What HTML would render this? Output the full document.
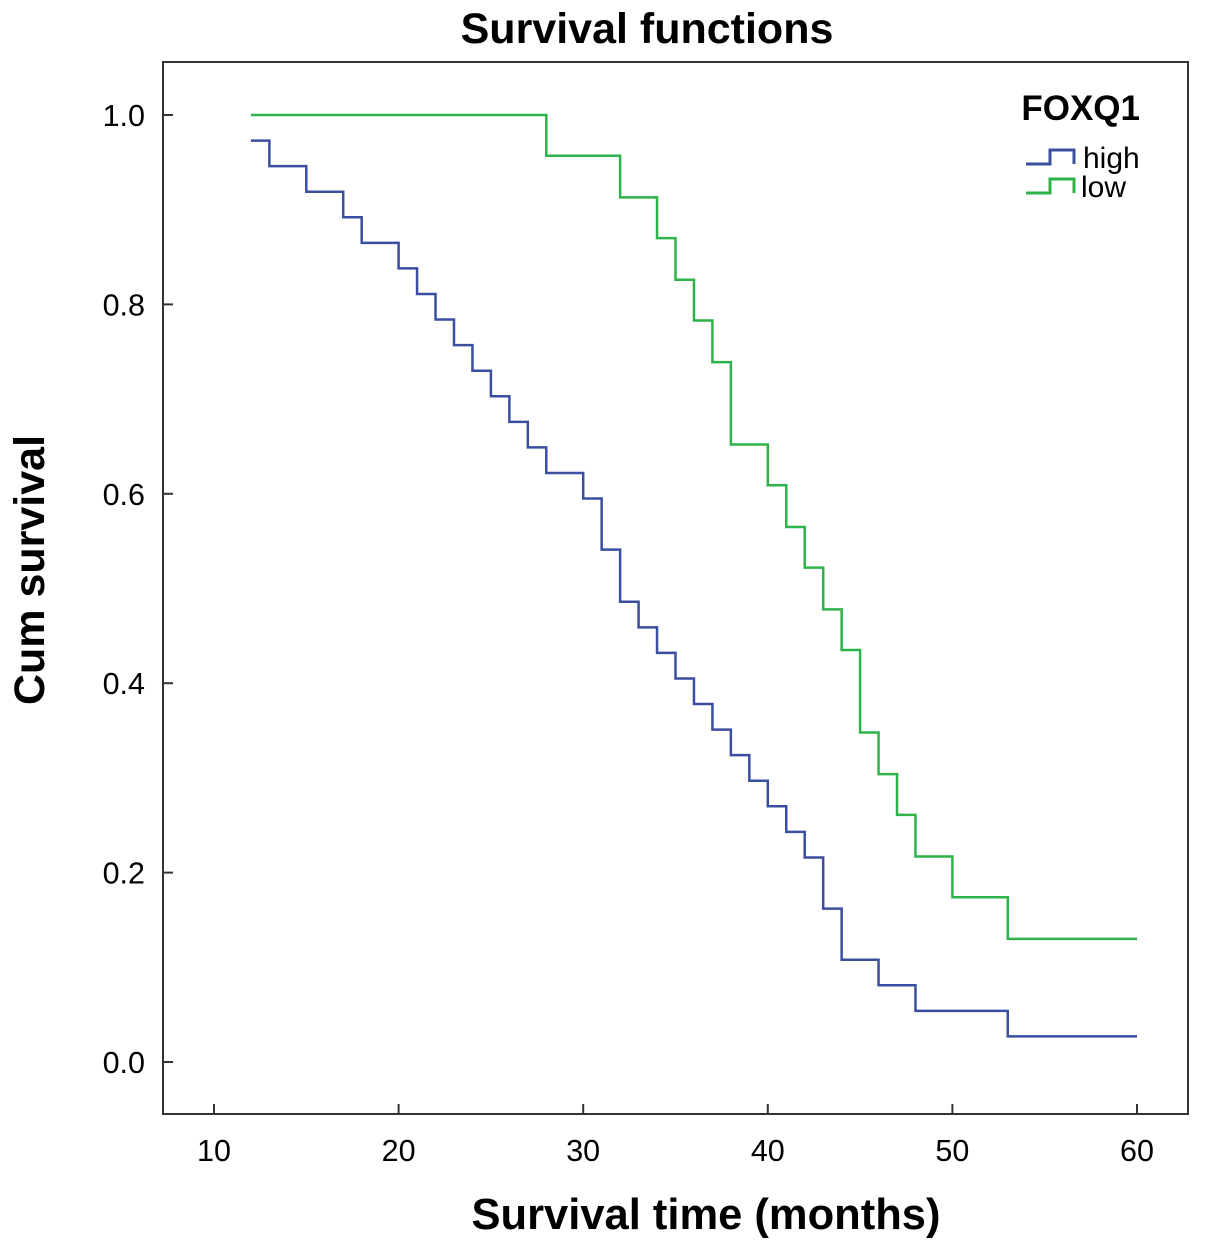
<!DOCTYPE html>
<html><head><meta charset="utf-8">
<style>
html,body{margin:0;padding:0;background:#fff;}
svg{display:block;font-family:"Liberation Sans",Arial,sans-serif;}
</style></head>
<body>
<svg id="chart" width="1205" height="1251" viewBox="0 0 1205 1251">
<text x="647" y="43" text-anchor="middle" font-size="43" font-weight="bold">Survival functions</text>
<rect x="163" y="62" width="1025" height="1052" fill="none" stroke="#333" stroke-width="2"/>
<g id="xticks"></g>
<g id="yticks"></g>
<text x="706" y="1229" text-anchor="middle" font-size="43.5" font-weight="bold">Survival time (months)</text>
<text transform="translate(44,570) rotate(-90)" text-anchor="middle" font-size="43" font-weight="bold">Cum survival</text>
<g id="series"></g>
<g>
<text x="1140" y="120" text-anchor="end" font-size="35" font-weight="bold">FOXQ1</text>
<path d="M1026 164 H1050 V150 H1074 V164" fill="none" stroke="#3a4fa0" stroke-width="3"/>
<text x="1083" y="168" font-size="30">high</text>
<path d="M1026 193 H1050 V179 H1074 V193" fill="none" stroke="#2eb34a" stroke-width="3"/>
<text x="1081" y="197" font-size="30">low</text>
</g>
</svg>
<script>
const xTicks = [10,20,30,40,50,60];
const yTicks = [0.0,0.2,0.4,0.6,0.8,1.0];
const highTimes = [12,13,15,17,18,20,21,22,23,24,25,26,27,28,30,31,32,33,34,35,36,37,38,39,40,41,42,43,44,46,48,53];
const highValues = [0.973,0.946,0.919,0.892,0.865,0.838,0.811,0.784,0.757,0.730,0.703,0.676,0.649,0.622,0.595,0.541,0.486,0.459,0.432,0.405,0.378,0.351,0.324,0.297,0.270,0.243,0.216,0.162,0.108,0.081,0.054,0.027];
const lowTimes = [12,28,32,34,35,36,37,38,40,41,42,43,44,45,46,47,48,50,53];
const lowValues = [1.0,0.957,0.913,0.870,0.826,0.783,0.739,0.652,0.609,0.565,0.522,0.478,0.435,0.348,0.304,0.261,0.217,0.174,0.130];
const endTime = 60;

const ns = "http://www.w3.org/2000/svg";
const xs = t => 214 + (t - 10) * (1137 - 214) / 50;
const ys = v => 1062 - v * (1062 - 115);

const gx = document.getElementById('xticks');
xTicks.forEach(t => {
  const l = document.createElementNS(ns,'line');
  l.setAttribute('x1',xs(t)); l.setAttribute('x2',xs(t));
  l.setAttribute('y1',1114); l.setAttribute('y2',1104);
  l.setAttribute('stroke','#333'); l.setAttribute('stroke-width','2');
  
  
  gx.appendChild(l);
  const tx = document.createElementNS(ns,'text');
  tx.setAttribute('x',xs(t)); tx.setAttribute('y',1161);
  tx.setAttribute('text-anchor','middle'); tx.setAttribute('font-size','30.5');
  tx.textContent = t;
  
  
  gx.appendChild(tx);
});
const gy = document.getElementById('yticks');
yTicks.forEach(v => {
  const l = document.createElementNS(ns,'line');
  l.setAttribute('x1',163); l.setAttribute('x2',173);
  l.setAttribute('y1',ys(v)); l.setAttribute('y2',ys(v));
  l.setAttribute('stroke','#333'); l.setAttribute('stroke-width','2');
  
  
  gy.appendChild(l);
  const tx = document.createElementNS(ns,'text');
  tx.setAttribute('x',145); tx.setAttribute('y',ys(v)+11);
  tx.setAttribute('text-anchor','end'); tx.setAttribute('font-size','30.5');
  tx.textContent = v.toFixed(1);
  
  
  gy.appendChild(tx);
});
function stepPath(times, vals){
  let d = 'M' + xs(times[0]) + ' ' + ys(vals[0]);
  for (let i = 1; i < times.length; i++) {
    d += ' H' + xs(times[i]) + ' V' + ys(vals[i]);
  }
  d += ' H' + xs(endTime);
  return d;
}
const gs = document.getElementById('series');
const ph = document.createElementNS(ns,'path');
ph.setAttribute('d', stepPath(highTimes, highValues));
ph.setAttribute('fill','none'); ph.setAttribute('stroke','#3a4fa0'); ph.setAttribute('stroke-width','2.5');


gs.appendChild(ph);
const pl = document.createElementNS(ns,'path');
pl.setAttribute('d', stepPath(lowTimes, lowValues));
pl.setAttribute('fill','none'); pl.setAttribute('stroke','#2eb34a'); pl.setAttribute('stroke-width','2.5');


gs.appendChild(pl);
</script>
</body></html>
